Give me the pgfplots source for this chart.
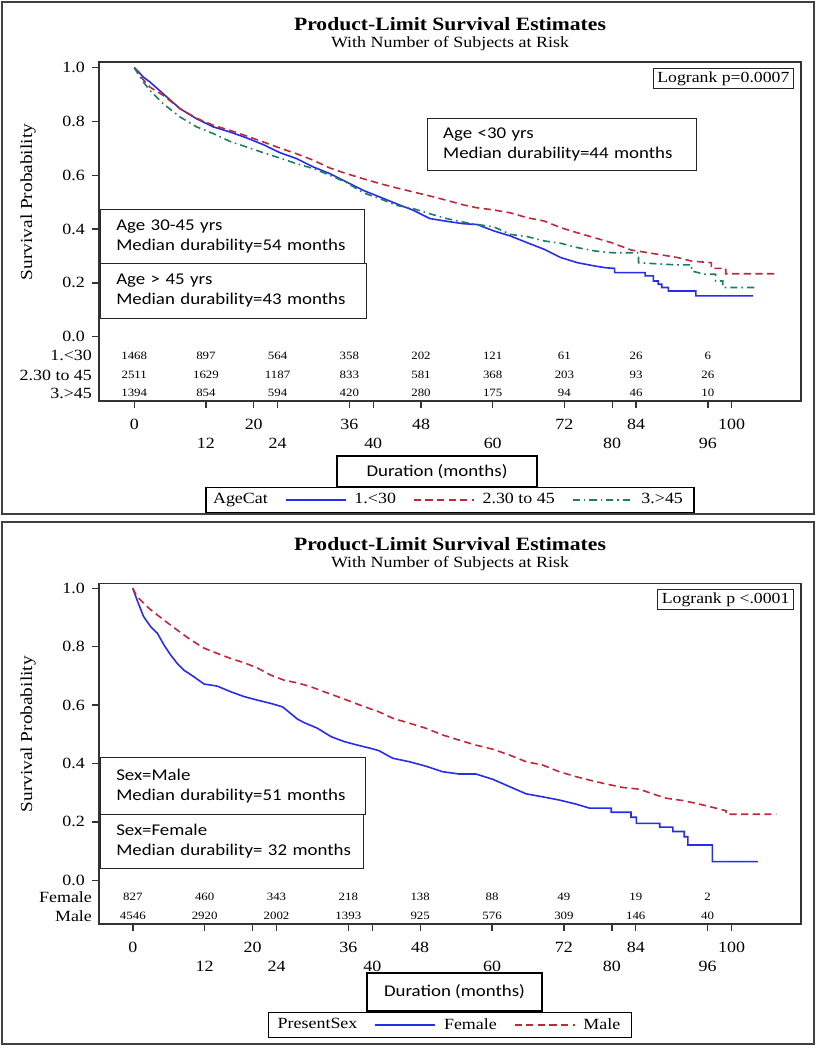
\documentclass[border=0pt]{standalone}
\usepackage{fontspec}
\setmainfont{Liberation Serif}[FakeStretch=1.15]
\setsansfont{Carlito}[FakeStretch=1.15]
\usepackage{pgfplots}
\pgfplotsset{compat=1.18}
\usepackage{pgfplotstable}

\definecolor{kmblue}{RGB}{40,45,235}
\definecolor{kmred}{RGB}{192,40,58}
\definecolor{kmgreen}{RGB}{30,125,105}

\newcommand\fT{\fontsize{9.4}{11}\selectfont\bfseries}
\newcommand\fS{\fontsize{7.8}{9}\selectfont}
\newcommand\fTick{\fontsize{7.8}{9}\selectfont}
\newcommand\fRisk{\fontsize{5.6}{6.5}\selectfont}
\newcommand\fBox{\sffamily\fontsize{8.2}{10}\selectfont}
\newcommand\fY{\fontsize{8.4}{10}\selectfont}

% ---------------- top panel data (AgeCat) ----------------
\pgfplotstableread{
x y
0 1.0
0.7 0.985
1.5 0.965
2.6 0.947
4.84 0.903
7.63 0.848
10.42 0.810
13.21 0.780
16.0 0.761
18.79 0.739
21.58 0.714
24.37 0.684
27.16 0.662
29.95 0.631
32.74 0.606
35.53 0.575
38.32 0.544
41.11 0.519
43.9 0.494
46.69 0.470
49.48 0.439
52.27 0.429
55.06 0.420
57.4 0.417
60.2 0.393
63 0.374
65.8 0.349
68.6 0.325
71.4 0.294
74.2 0.275
77 0.263
79 0.256
80.4 0.254
80.4 0.238
85.5 0.238
85.5 0.226
86.9 0.226
86.9 0.207
87.7 0.207
87.7 0.195
88.3 0.195
88.3 0.183
89.4 0.183
89.4 0.170
94.0 0.170
94.0 0.152
103.6 0.152
}\topA

\pgfplotstableread{
x y
0 1.0
0.7 0.980
1.5 0.955
2.6 0.928
4.84 0.897
7.63 0.848
10.42 0.812
13.21 0.786
16.0 0.767
18.79 0.746
21.58 0.724
24.37 0.701
27.16 0.680
29.95 0.656
32.74 0.627
35.53 0.606
38.32 0.587
41.11 0.569
43.9 0.553
46.69 0.538
49.48 0.523
52.27 0.507
55.06 0.490
57.4 0.479
60.2 0.471
63 0.460
65.8 0.442
68.6 0.430
71.4 0.405
74.2 0.386
77 0.368
79.8 0.350
83.2 0.322
87.7 0.306
91 0.294
93.3 0.281
96.6 0.275
96.6 0.254
99.0 0.254
99.0 0.234
107.5 0.234
}\topB

\pgfplotstableread{
x y
0 1.0
0.7 0.975
1.5 0.947
2.6 0.916
4.84 0.866
7.63 0.817
10.42 0.780
13.21 0.755
16.0 0.726
18.79 0.705
21.58 0.684
24.37 0.664
27.16 0.643
29.95 0.625
32.74 0.600
35.53 0.573
38.32 0.535
41.11 0.513
43.9 0.488
46.69 0.476
49.48 0.457
52.27 0.439
55.06 0.426
57.4 0.417
60.2 0.408
63 0.380
65.8 0.372
68.6 0.356
71.4 0.347
74.2 0.331
77 0.319
80 0.312
84.4 0.312
84.4 0.275
90.5 0.267
93.3 0.267
93.3 0.244
95.5 0.232
97.3 0.232
97.3 0.207
98.5 0.207
98.5 0.183
103.9 0.183
}\topC

\pgfplotstableread{
x y n
0 -0.0706 1468
12 -0.0706 897
24 -0.0706 564
36 -0.0706 358
48 -0.0706 202
60 -0.0706 121
72 -0.0706 61
84 -0.0706 26
96 -0.0706 6
0 -0.1424 2511
12 -0.1424 1629
24 -0.1424 1187
36 -0.1424 833
48 -0.1424 581
60 -0.1424 368
72 -0.1424 203
84 -0.1424 93
96 -0.1424 26
0 -0.2104 1394
12 -0.2104 854
24 -0.2104 594
36 -0.2104 420
48 -0.2104 280
60 -0.2104 175
72 -0.2104 94
84 -0.2104 46
96 -0.2104 10
}\riskTop

% ---------------- bottom panel data (PresentSex) ----------------
\pgfplotstableread{
x y
0 1.0
0.7 0.960
1.8 0.903
3.0 0.868
4.1 0.846
5.2 0.806
6.3 0.772
7.4 0.743
8.5 0.720
10.2 0.697
11.9 0.672
14.1 0.665
16.3 0.646
18.6 0.629
20.8 0.617
23.0 0.606
25.0 0.594
26.2 0.574
27.5 0.552
28.6 0.540
30.8 0.521
33.1 0.492
35.3 0.475
37.5 0.463
39.7 0.452
41.1 0.444
43.4 0.418
46.2 0.406
48.9 0.391
51.7 0.372
54.5 0.364
57.3 0.364
60.1 0.346
62.9 0.321
65.7 0.296
68.4 0.286
71.2 0.275
74.0 0.261
76.3 0.247
79.9 0.247
79.9 0.233
83.2 0.233
83.2 0.216
84.1 0.216
84.1 0.195
88.0 0.195
88.0 0.182
90.2 0.182
90.2 0.167
92.1 0.167
92.1 0.149
92.7 0.149
92.7 0.121
96.8 0.121
96.8 0.064
104.4 0.064
}\botF

\pgfplotstableread{
x y
0 1.0
0.7 0.971
3.0 0.926
5.2 0.891
7.4 0.857
9.7 0.823
11.9 0.795
14.1 0.777
16.3 0.760
18.6 0.745
20.8 0.727
23.0 0.703
25.3 0.685
27.5 0.676
29.7 0.663
31.9 0.646
34.2 0.629
36.4 0.612
38.6 0.595
41.1 0.577
43.4 0.555
46.2 0.538
48.9 0.521
51.7 0.498
54.5 0.480
57.3 0.463
60.1 0.449
62.9 0.429
65.7 0.406
68.4 0.395
71.2 0.372
74.0 0.355
76.3 0.343
79.0 0.330
81.8 0.318
84.6 0.312
87.4 0.292
89.1 0.281
91.9 0.273
94.6 0.261
97.4 0.247
99.1 0.238
99.1 0.226
107.5 0.226
}\botM

\pgfplotstableread{
x y n
0 -0.058 827
12 -0.058 460
24 -0.058 343
36 -0.058 218
48 -0.058 138
60 -0.058 88
72 -0.058 49
84 -0.058 19
96 -0.058 2
0 -0.122 4546
12 -0.122 2920
24 -0.122 2002
36 -0.122 1393
48 -0.122 925
60 -0.122 576
72 -0.122 309
84 -0.122 146
96 -0.122 40
}\riskBot

\tikzset{
  annot/.style={draw=black!85, line width=0.6pt, font=\fBox, align=left, inner xsep=0pt, inner ysep=0pt},
}
\newcommand\pad{\hspace*{7.8pt}}

\pgfplotsset{
  kmaxis/.style={
    scale only axis, width=351pt, clip=false,
    axis line style={draw=black!80, line width=0.8pt},
    tick pos=left, tick align=outside,
    major tick length=3.6pt,
    every tick/.style={draw=black!80, line width=0.7pt},
    xtick={0,20,36,48,72,84,100},
    extra x ticks={12,24,40,60,80,96},
    extra x tick style={xticklabel style={yshift=-9.6pt}},
    xticklabel style={yshift=-1.9pt},
    ytick={0,0.2,0.4,0.6,0.8,1.0},
    yticklabel style={/pgf/number format/fixed, /pgf/number format/fixed zerofill, /pgf/number format/precision=1},
    /pgf/number format/assume math mode=true,
    tick label style={font=\fTick},
    extra y tick style={major tick length=0pt},
    ylabel={Survival Probability},
    ylabel style={font=\fY, anchor=center},
    xlabel={Duration (months)},
    xlabel style={draw=black, line width=0.6pt, anchor=center, font=\fBox, inner sep=0pt},
    legend columns=-1,
    legend image code/.code={\draw[##1] (0pt,0pt) -- (30pt,0pt);},
    legend style={draw=black, line width=0.6pt, font=\fTick, anchor=north,
      inner xsep=3.5pt, inner ysep=0.8pt,
      /tikz/every odd column/.append style={column sep=2pt},
      /tikz/every even column/.append style={column sep=6.5pt}},
  },
  riskstyle/.style={forget plot, only marks, mark=*, mark size=0pt,
    nodes near coords, point meta=explicit symbolic,
    nodes near coords align={anchor=center},
    every node near coord/.append style={font=\fRisk, inner sep=0pt, anchor=center}},
  blueline/.style={kmblue, line width=0.8pt},
  redline/.style={kmred, line width=0.8pt, dash pattern=on 3.6pt off 2.2pt},
  greenline/.style={kmgreen, line width=0.8pt, dash pattern=on 3.6pt off 2pt on 0.8pt off 2pt},
}

\begin{document}
\begin{tikzpicture}
\path[use as bounding box] (0pt,0pt) rectangle (408pt,-525pt);
\draw[line width=1.2pt, draw=black!75] (1pt,-1pt) rectangle (407pt,-257pt);
\draw[line width=1.2pt, draw=black!75] (1pt,-261pt) rectangle (407pt,-522pt);

% ================= TOP PANEL =================
\begin{axis}[kmaxis,
  at={(49.5pt,-30.85pt)}, anchor=north west, height=169.65pt,
  xmin=-5.9, xmax=111.6, ymin=-0.239, ymax=1.022,
  extra y ticks={-0.0706,-0.1424,-0.2104},
  extra y tick labels={1.<30,2.30 to 45,3.>45},
  ylabel style={at={(axis description cs:-0.101,0.5865)}},
  xlabel style={at={(axis description cs:0.4815,-0.2078)}, minimum width=100pt, minimum height=15.5pt},
  legend style={at={(axis description cs:0.5,-0.2535)}},
]
\addlegendimage{empty legend}
\addplot[blueline] table {\topA};
\addplot[redline] table {\topB};
\addplot[greenline] table {\topC};
\legend{\hspace*{-4pt}AgeCat\hspace{5pt},1.<30,2.30 to 45,3.>45}
\addplot[riskstyle] table[meta=n] {\riskTop};

\node[font=\fT] at (axis description cs:0.5,1.1096) {Product-Limit Survival Estimates};
\node[font=\fS] at (axis description cs:0.5,1.0536) {With Number of Subjects at Risk};
\node[draw=black!85, line width=0.6pt, font=\fontsize{7.7}{9}\selectfont, anchor=north east,
  minimum height=10pt, inner xsep=2pt, inner ysep=0pt] at (axis description cs:0.990,0.9814) {Logrank p=0.0007};
\node[annot, anchor=north west, text width=134.5pt, minimum height=26pt]
  at (axis description cs:0.4672,0.8341) {\pad Age <30 yrs\\\pad Median durability=44 months};
\node[annot, anchor=north west, text width=132pt, minimum height=27pt]
  at (axis description cs:0.0015,0.5667) {\pad Age 30-45 yrs\\\pad Median durability=54 months};
\node[annot, anchor=north west, text width=133pt, minimum height=27.5pt]
  at (axis description cs:0.0015,0.4076) {\pad Age > 45 yrs\\\pad Median durability=43 months};
\end{axis}

% ================= BOTTOM PANEL =================
\begin{axis}[kmaxis,
  at={(49.5pt,-291.65pt)}, anchor=north west, height=170.35pt,
  xmin=-5.65, xmax=111.6, ymin=-0.1497, ymax=1.017,
  extra y ticks={-0.058,-0.122},
  extra y tick labels={Female,Male},
  ylabel style={at={(axis description cs:-0.101,0.5568)}},
  xlabel style={at={(axis description cs:0.5064,-0.1996)}, minimum width=87.5pt, minimum height=19pt},
  legend style={at={(axis description cs:0.5,-0.2583)}},
]
\addlegendimage{empty legend}
\addplot[blueline] table {\botF};
\addplot[redline] table {\botM};
\legend{\hspace*{-3pt}PresentSex\hspace{5pt},Female,Male}
\addplot[riskstyle] table[meta=n] {\riskBot};

\node[font=\fT] at (axis description cs:0.5,1.1139) {Product-Limit Survival Estimates};
\node[font=\fS] at (axis description cs:0.5,1.0581) {With Number of Subjects at Risk};
\node[draw=black!85, line width=0.6pt, font=\fontsize{7.7}{9}\selectfont, anchor=north east,
  minimum height=10pt, inner xsep=2pt, inner ysep=0pt] at (axis description cs:0.990,0.9833) {Logrank p <.0001};
\node[annot, anchor=north west, text width=132.5pt, minimum height=28.5pt]
  at (axis description cs:0.0015,0.4902) {\pad Sex=Male\\\pad Median durability=51 months};
\node[annot, anchor=north west, text width=131.5pt, minimum height=27pt]
  at (axis description cs:0.0015,0.3229) {\pad Sex=Female\\\pad Median durability= 32 months};
\end{axis}
\end{tikzpicture}
\end{document}
